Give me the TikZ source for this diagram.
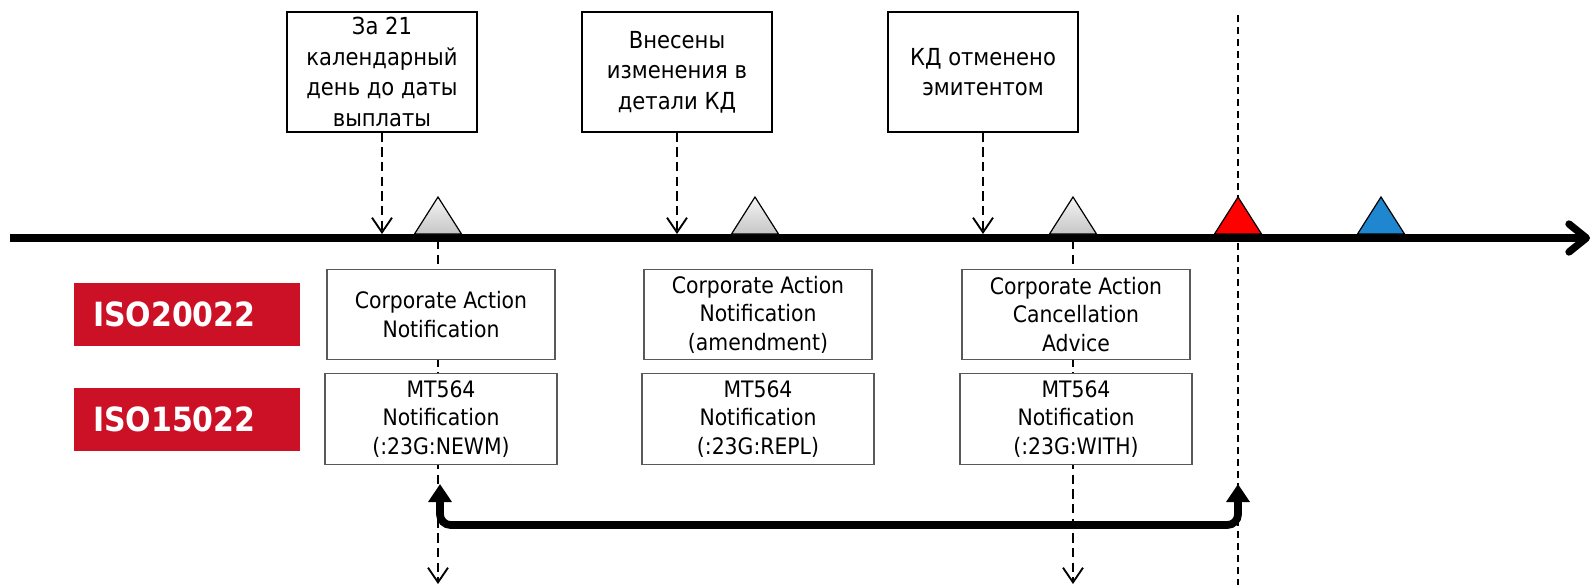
\documentclass[tikz,border=0pt]{standalone}
\usepackage{fontspec}
\setmainfont{DejaVu Sans Condensed}
\usepackage{tikz}
\usetikzlibrary{arrows.meta, backgrounds}
\definecolor{isored}{RGB}{204,17,38}
\definecolor{markred}{RGB}{255,0,0}
\definecolor{markblue}{RGB}{31,135,208}

\begin{document}
\begin{tikzpicture}[
    x=0.75pt, y=-0.75pt,
    eventbox/.style={draw, fill=white, line width=0.8pt, minimum width=142.5pt, minimum height=90pt, align=center, inner sep=2pt, font=\fontsize{17.6}{22.9}\selectfont},
    msgbox/.style={draw=black!65, fill=white, line width=0.8pt, minimum width=171pt, minimum height=68pt, align=center, inner sep=1pt, font=\fontsize{17}{21.3}\selectfont},
    stdlabel/.style={fill=isored, text=white, text width=141pt, minimum height=47pt, inner xsep=14.25pt, align=left, font=\bfseries\fontsize{25}{30}\selectfont},
    flaggray/.style={draw=black, line width=0.9pt, top color=gray!8, bottom color=gray!45},
    flagcol/.style={draw=black, line width=0.9pt, fill=#1},
    cue/.style={line width=2.2pt, dash pattern=on 7pt off 4pt, -{Straight Barb[length=11pt, width=15pt, line width=1.4pt]}},
    deadline/.style={line width=1pt, dash pattern=on 5.5pt off 3.5pt},
    axisline/.style={line width=5.5pt, -{Straight Barb[length=13pt, width=21pt, round]}},
    period/.style={line width=5.8pt, rounded corners=8pt, {Triangle[length=13.5pt, width=17pt]}-{Triangle[length=13.5pt, width=17pt]}}
]
    \useasboundingbox (0,0) rectangle (1592,585);

    % Events
    \node[eventbox] (ev1) at (382,72) {За 21\\календарный\\день до даты\\выплаты};
    \node[eventbox] (ev2) at (677,72) {Внесены\\изменения в\\детали КД};
    \node[eventbox] (ev3) at (983,72) {КД отменено\\эмитентом};

    % Standards
    \node[stdlabel] (iso20) at (187,314.5) {ISO20022};
    \node[stdlabel] (iso15) at (187,419.5) {ISO15022};

    % Messages
    \node[msgbox] (can) at (441,314.5) {Corporate Action\\Notification};
    \node[msgbox] (cam) at (758,314.5) {Corporate Action\\Notification\\(amendment)};
    \node[msgbox] (cac) at (1076,314.5) {Corporate Action\\Cancellation\\Advice};
    \node[msgbox, minimum width=174pt] (newm) at (441,419) {MT564\\Notification\\(:23G:NEWM)};
    \node[msgbox, minimum width=174pt] (repl) at (758,419) {MT564\\Notification\\(:23G:REPL)};
    \node[msgbox, minimum width=174pt] (with) at (1076,419) {MT564\\Notification\\(:23G:WITH)};

    % Timeline
    \coordinate (start) at (10,238);
    \coordinate (end) at (1590,238);
    \coordinate (axis) at (0,234);
    \coordinate (m1) at (438,240);
    \coordinate (m3) at (1073,240);
    \coordinate (d1) at (438,584);
    \coordinate (d3) at (1073,584);
    \coordinate (dltop) at (1238,15);
    \coordinate (dlbot) at (1238,585);
    \draw[axisline] (start) -- (end);

    % Markers
    \draw[flaggray] (438,197) -- ++(23.5,37) -- ++(-47,0) -- cycle;
    \draw[flaggray] (755,197) -- ++(23.5,37) -- ++(-47,0) -- cycle;
    \draw[flaggray] (1073,197) -- ++(23.5,37) -- ++(-47,0) -- cycle;
    \draw[flagcol=markred] (1238,197) -- ++(23.5,37) -- ++(-47,0) -- cycle;
    \draw[flagcol=markblue] (1381,197) -- ++(23.5,37) -- ++(-47,0) -- cycle;

    % Links
    \draw[cue] (ev1.south) -- (ev1.south |- axis);
    \draw[cue] (ev2.south) -- (ev2.south |- axis);
    \draw[cue] (ev3.south) -- (ev3.south |- axis);
    \begin{scope}[on background layer]
        \draw[cue] (m1) -- (d1);
        \draw[cue] (m3) -- (d3);
        \draw[deadline] (dltop) -- (dlbot);
    \end{scope}

    % Period
    \coordinate (ps) at (440,484);
    \coordinate (pe) at (1238,484);
    \coordinate (pb) at (0,525);
    \draw[period] (ps) -- (ps |- pb) -- (pe |- pb) -- (pe);
\end{tikzpicture}
\end{document}
